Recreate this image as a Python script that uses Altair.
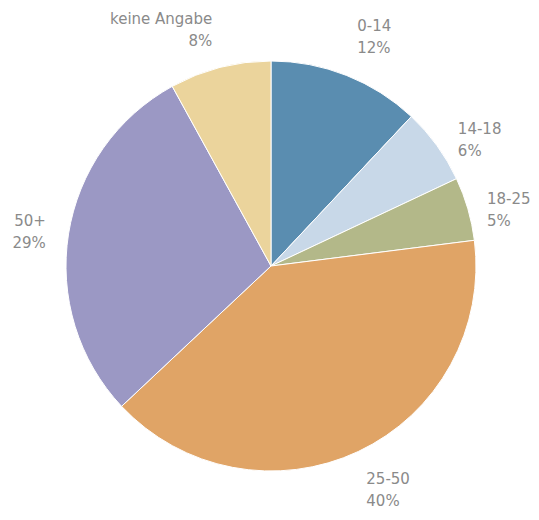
import altair as alt
import pandas as pd

categories = ["0-14", "14-18", "18-25", "25-50", "50+", "keine Angabe"]
shares = [12, 6, 5, 40, 29, 8]
colors = ["#5a8db0", "#c8d8e8", "#b3b889", "#e0a466", "#9b98c4", "#ebd49c"]

df = pd.DataFrame({
    "cat": categories,
    "share": shares,
    "order": list(range(len(categories))),
})
df["label"] = df.apply(lambda r: f"{r['cat']}\n{r['share']}%", axis=1)

cx, cy = 263, 258
theta_scale = alt.Scale(domain=[0, 100], range=[0, 6.283185307179586])

base = alt.Chart(df).transform_stack(
    stack="share", groupby=[], as_=["start", "end"], sort=[alt.SortField("order")]
).transform_calculate(mid="(datum.start + datum.end) / 2")

pie = base.mark_arc(outerRadius=205, stroke="white", strokeWidth=1).encode(
    theta=alt.Theta("start:Q", scale=theta_scale),
    theta2="end:Q",
    color=alt.Color("cat:N", scale=alt.Scale(domain=categories, range=colors), legend=None),
    x=alt.value(cx),
    y=alt.value(cy),
)

txt_style = dict(font="DejaVu Sans", fontSize=15, color="#8a8a8a", lineBreak="\n",
                 lineHeight=22, baseline="middle")

# label placement groups: (categories, align, radius, dx, dy)
label_groups = [
    (["0-14"], "left", 245, -4, -12),
    (["14-18"], "left", 226, 4, -4),
    (["18-25"], "left", 226, -1, -4),
    (["25-50"], "left", 252, -12, -15),
    (["50+"], "right", 228, 0, -9),
    (["keine Angabe"], "right", 244, 2, -11),
]

layers = [pie]
for cats, align, rad, dx, dy in label_groups:
    layers.append(
        base.mark_text(align=align, dx=dx, dy=dy, **txt_style).encode(
            theta=alt.Theta("mid:Q", scale=theta_scale),
            text="label:N",
            radius=alt.value(rad),
            x=alt.value(cx),
            y=alt.value(cy),
        ).transform_filter(alt.FieldOneOfPredicate(field="cat", oneOf=cats))
    )

chart = alt.layer(*layers).properties(
    width=523, height=504, autosize=alt.AutoSizeParams(type="none"), padding=0
).configure_view(stroke=None)

chart.save("out.html", embed_options={"renderer": "svg", "actions": False})
